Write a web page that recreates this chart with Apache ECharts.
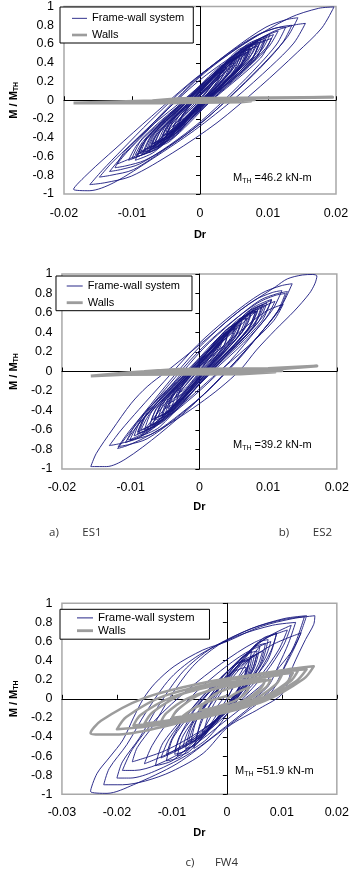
<!DOCTYPE html>
<html>
<head>
<meta charset="utf-8">
<title>Moment ratio vs drift: ES1, ES2, FW4</title>
<script src="https://cdn.jsdelivr.net/npm/echarts@6.0.0/dist/echarts.min.js"></script>
<style>
  html, body { margin: 0; padding: 0; background: #fff; }
  #chart { width: 352px; height: 870px; }
</style>
</head>
<body>
<div id="chart"></div>
<script>
const seriesNames = ['Frame-wall system', 'Walls'];
const captionLabels = ['a)', 'ES1', 'b)', 'ES2', 'c)', 'FW4'];
const mthValues = ['46.2', '39.2', '51.9'];
const drRangeES = [-0.02, 0.02];
const drRangeFW = [-0.03, 0.02];
const drStep = 0.01;
const ratioRange = [-1, 1];
const ratioStep = 0.2;

// [Dr, M/Mth] pairs
const es1Frame = [
  [0,0],[0.0015,0.14],[0.003,0.26],
  [0.0026,0.20],[0.0017,0.12],[0.0003,0.01],[-0.0011,-0.10],[-0.0023,-0.19],[-0.003,-0.22],
  [-0.0025,-0.15],[-0.0012,-0.03],[0.0006,0.11],[0.0024,0.25],[0.004,0.36],[0.005,0.40],
  [0.0044,0.31],[0.0028,0.18],[0.0005,0.01],[-0.0018,-0.16],[-0.0038,-0.30],[-0.005,-0.34],
  [-0.0043,-0.23],[-0.0023,-0.07],[0.0006,0.13],[0.0035,0.34],[0.006,0.50],[0.0075,0.55],
  [0.0066,0.43],[0.0043,0.24],[0.0009,0.01],[-0.0025,-0.23],[-0.0054,-0.41],[-0.0072,-0.47],
  [-0.0062,-0.33],[-0.0035,-0.13],[0.0003,0.13],[0.0042,0.39],[0.0075,0.59],[0.0095,0.66],
  [0.0084,0.51],[0.0054,0.30],[0.0012,0.02],[-0.0031,-0.26],[-0.0068,-0.48],[-0.009,-0.55],
  [-0.0078,-0.40],[-0.0048,-0.18],[-0.0003,0.11],[0.0041,0.40],[0.008,0.63],[0.0103,0.70],
  [0.0091,0.54],[0.0057,0.30],[0.0009,-0.01],[-0.0038,-0.32],[-0.008,-0.56],[-0.0105,-0.64],
  [-0.0092,-0.47],[-0.0057,-0.23],[-0.0006,0.09],[0.0045,0.41],[0.0089,0.66],[0.0115,0.74],
  [0.0101,0.57],[0.0063,0.31],[0.0008,-0.01],[-0.0046,-0.34],[-0.0094,-0.59],[-0.0122,-0.68],
  [-0.0107,-0.55],[-0.0082,-0.36],[-0.0048,-0.10],[-0.0003,0.23],[0.0042,0.49],[0.0084,0.69],[0.0111,0.77],[0.0126,0.78],
  [0.0113,0.60],[0.0087,0.38],[0.0048,0.09],[0.0002,-0.22],[-0.0045,-0.48],[-0.0089,-0.68],[-0.0117,-0.74],[-0.0133,-0.76],
  [-0.0116,-0.61],[-0.0089,-0.40],[-0.005,-0.10],[0,0.26],[0.005,0.55],[0.0097,0.78],[0.0127,0.86],[0.0144,0.88],
  [0.0129,0.68],[0.01,0.44],[0.0056,0.12],[0.0004,-0.23],[-0.0049,-0.51],[-0.0098,-0.74],[-0.0131,-0.80],[-0.0148,-0.82],
  [-0.013,-0.67],[-0.01,-0.46],[-0.0057,-0.16],[-0.0003,0.20],[0.0052,0.49],[0.0104,0.72],[0.0137,0.80],[0.0155,0.82],
  [0.0138,0.61],[0.0104,0.36],[0.0053,0.03],[-0.0008,-0.32],[-0.0069,-0.62],[-0.0127,-0.88],[-0.0163,-0.965],[-0.0186,-0.95],
  [-0.0163,-0.77],[-0.0125,-0.52],[-0.0071,-0.17],[-0.0002,0.26],[0.0067,0.61],[0.0132,0.88],[0.0174,0.98],[0.0197,0.995],
  [0.0179,0.77],[0.0143,0.51],[0.0089,0.15],[0.0025,-0.24],[-0.004,-0.56],[-0.0101,-0.81],[-0.014,-0.88],[-0.0162,-0.90],
  [-0.0144,-0.75],[-0.0115,-0.53],[-0.0073,-0.22],[-0.0019,0.15],[0.0034,0.46],[0.0085,0.70],[0.0117,0.78],[0.0135,0.80],
  [0.0122,0.62],[0.0096,0.40],[0.0057,0.12],[0.001,-0.19],[-0.0037,-0.45],[-0.0081,-0.64],[-0.0109,-0.70],[-0.0125,-0.72],
  [-0.0111,-0.55],[-0.0074,-0.29],[-0.002,0.03],[0.0033,0.36],[0.008,0.61],[0.0108,0.70],
  [0.0096,0.55],[0.0063,0.32],[0.0017,0.02],[-0.003,-0.27],[-0.0071,-0.50],[-0.0095,-0.58],
  [-0.0084,-0.44],[-0.0055,-0.22],[-0.0014,0.06],[0.0027,0.33],[0.0063,0.55],[0.0085,0.62],
  [0.0076,0.49],[0.0051,0.30],[0.0015,0.05],[-0.002,-0.20],[-0.0051,-0.40],[-0.007,-0.46],
  [-0.0062,-0.35],[-0.0041,-0.18],[-0.0012,0.04],[0.0018,0.25],[0.0044,0.42],[0.006,0.48],
  [0.0053,0.38],[0.0035,0.22],[0.0008,0.02],[-0.0018,-0.17],[-0.0041,-0.33],[-0.0055,-0.38],
  [-0.0049,-0.29],[-0.0034,-0.16],[-0.0012,0.0],[0.001,0.17],[0.0029,0.30],[0.004,0.34],
  [0.0035,0.27],[0.0022,0.15],[0.0004,0.01],[-0.0014,-0.13],[-0.003,-0.24],[-0.004,-0.28],
  [-0.002,-0.12],[0.0005,0.06]
];
// dense inner cycles of the dark core
const es1Core = [
  [0.0035,0.32],[0.0065,0.52],
  [0.0055,0.36],[0.0008,0.01],[-0.0043,-0.38],[-0.0062,-0.45],
  [-0.005,-0.27],[0.0003,0.11],[0.006,0.53],[0.0082,0.60],
  [0.0069,0.41],[0.001,0.01],[-0.0054,-0.44],[-0.0078,-0.52],
  [-0.0067,-0.35],[-0.0017,0.0],[0.0038,0.39],[0.0058,0.46],
  [0.0047,0.28],[-0.0006,-0.09],[-0.0064,-0.51],[-0.0085,-0.58],
  [-0.0071,-0.37],[-0.0006,0.07],[0.0064,0.56],[0.009,0.65],
  [0.0077,0.45],[0.0019,0.04],[-0.0044,-0.42],[-0.0068,-0.50],
  [-0.0057,-0.32],[-0.0005,0.06],[0.0051,0.48],[0.0072,0.55],
  [0.0058,0.35],[-0.0005,-0.07],[-0.0074,-0.54],[-0.01,-0.62],
  [-0.0084,-0.40],[-0.0011,0.07],[0.0068,0.59],[0.0098,0.68],
  [0.0084,0.47],[0.0017,0.03],[-0.0055,-0.46],[-0.0082,-0.55],
  [-0.007,-0.37],[-0.0015,0.01],[0.0046,0.43],[0.0068,0.50],
  [0.0058,0.34],[0.0011,0.01],[-0.004,-0.36],[-0.0058,-0.42],
  [-0.0045,-0.24],[0.0015,0.15],[0.0081,0.58],[0.0105,0.66],
  [0.0089,0.45],[0.0016,-0.01],[-0.0062,-0.51],[-0.0092,-0.60],
  [-0.0078,-0.40],[-0.0016,0.03],[0.0053,0.50],[0.0078,0.58],
  [0.0066,0.40],[0.0009,0.01],[-0.0052,-0.42],[-0.0075,-0.50],
  [-0.0065,-0.34],[-0.0018,0.0],[0.0033,0.37],[0.0052,0.44],
  [0.0044,0.30],[0.0007,0.02],[-0.0033,-0.30],[-0.0048,-0.36],
  [-0.0037,-0.19],[0.0013,0.16],[0.0068,0.55],[0.0088,0.62],
  [0.0074,0.42],[0.0009,-0.01],[-0.0062,-0.49],[-0.0088,-0.57],
  [-0.0076,-0.39],[-0.0021,-0.01],[0.004,0.41],[0.0062,0.48],
  [0.0052,0.32],[0.0004,-0.02],[-0.0047,-0.40],[-0.0066,-0.47],
  [-0.003,-0.2],[0,0],
  [0.0022,0.2],[0.0045,0.40],
  [0.0037,0.26],[0.0001,-0.03],[-0.0037,-0.36],[-0.0052,-0.42],
  [-0.0042,-0.26],[0.0004,0.08],[0.0053,0.45],[0.0072,0.52],
  [0.0063,0.38],[0.0024,0.09],[-0.0019,-0.24],[-0.0035,-0.30],
  [-0.0029,-0.19],[-0.0002,0.05],[0.0027,0.31],[0.0038,0.36],
  [0.0029,0.21],[-0.0011,-0.11],[-0.0054,-0.46],[-0.007,-0.52],
  [-0.0058,-0.33],[0,0.06],[0.0062,0.50],[0.0085,0.58],
  [0.0074,0.40],[0.0021,0.03],[-0.0037,-0.39],[-0.0058,-0.46],
  [-0.0049,-0.30],[-0.0007,0.03],[0.0038,0.40],[0.0055,0.46],
  [0.0047,0.32],[0.0011,0.04],[-0.0027,-0.28],[-0.0042,-0.34],
  [-0.0031,-0.17],[0.002,0.18],[0.0074,0.57],[0.0095,0.64],
  [0.008,0.42],[0.001,-0.04],[-0.0067,-0.55],[-0.0095,-0.64],
  [-0.0084,-0.46],[-0.0031,-0.08],[0.0027,0.35],[0.0048,0.42],
  [0.0038,0.25],[-0.0007,-0.10],[-0.0057,-0.49],[-0.0075,-0.56],
  [-0.0063,-0.36],[-0.0007,0.05],[0.0053,0.52],[0.0075,0.60],
  [0.0065,0.43],[0.0019,0.07],[-0.0031,-0.33],[-0.005,-0.40],
  [-0.0044,-0.28],[-0.0014,-0.03],[0.0018,0.25],[0.003,0.30],
  [0.0025,0.20],[0.0002,-0.01],[-0.0023,-0.24],[-0.0032,-0.28],
  [-0.0024,-0.14],[0.0013,0.15],[0.0053,0.48],[0.0068,0.54],
  [0.0058,0.36],[0.0009,-0.01],[-0.0043,-0.43],[-0.0063,-0.50],
  [-0.003,-0.22],[0,0]
];
// long flat wall cycles stacked round zero
const es1Walls = [
  [-0.0186,-0.03],[-0.006,-0.03],[0.006,-0.02],[0.0075,-0.008],[-0.006,-0.018],[-0.0055,-0.007],
  [0.008,0.004],[0.008,0.013],[-0.005,0.0],[-0.004,0.01],[0.008,0.022],[0.0195,0.032],
  [0.006,0.024],[-0.003,0.018],[-0.007,-0.005],[-0.0186,-0.03]
];

const es2Frame = [
  [0,0],[0.0015,0.14],[0.003,0.28],
  [0.0026,0.22],[0.0017,0.13],[0.0003,0.02],[-0.0011,-0.10],[-0.0023,-0.19],[-0.003,-0.22],
  [-0.0025,-0.14],[-0.0011,-0.02],[0.0008,0.13],[0.0028,0.29],[0.0045,0.41],[0.0055,0.45],
  [0.0049,0.36],[0.0033,0.22],[0.001,0.04],[-0.0013,-0.14],[-0.0033,-0.28],[-0.0045,-0.33],
  [-0.0038,-0.22],[-0.0019,-0.06],[0.0009,0.15],[0.0037,0.36],[0.0061,0.53],[0.0075,0.58],
  [0.0067,0.45],[0.0044,0.26],[0.0012,0.02],[-0.002,-0.23],[-0.0048,-0.42],[-0.0065,-0.48],
  [-0.0055,-0.34],[-0.003,-0.13],[0.0007,0.13],[0.0044,0.40],[0.0076,0.61],[0.0095,0.68],
  [0.0084,0.53],[0.0055,0.30],[0.0014,0.0],[-0.0027,-0.29],[-0.0063,-0.52],[-0.0085,-0.60],
  [-0.0073,-0.44],[-0.0042,-0.20],[0.0003,0.10],[0.0048,0.40],[0.0087,0.64],[0.011,0.72],
  [0.0097,0.55],[0.0064,0.29],[0.0015,-0.03],[-0.0033,-0.36],[-0.0076,-0.61],[-0.0101,-0.70],
  [-0.0088,-0.53],[-0.0052,-0.28],[-0.0001,0.04],[0.0051,0.36],[0.0095,0.61],[0.0122,0.69],
  [0.0108,0.52],[0.0071,0.26],[0.0019,-0.06],[-0.0034,-0.39],[-0.008,-0.64],[-0.0108,-0.73],
  [-0.0094,-0.59],[-0.007,-0.39],[-0.0037,-0.11],[0.0005,0.23],[0.0048,0.51],[0.0088,0.73],[0.0114,0.80],[0.0128,0.82],
  [0.0116,0.63],[0.0091,0.41],[0.0054,0.10],[0.001,-0.21],[-0.0034,-0.48],[-0.0076,-0.69],[-0.0103,-0.75],[-0.0118,-0.77],
  [-0.0104,-0.63],[-0.008,-0.42],[-0.0047,-0.13],[-0.0004,0.22],[0.0039,0.51],[0.008,0.73],[0.0106,0.81],[0.012,0.83],
  [0.0107,0.64],[0.0082,0.42],[0.0045,0.11],[0,-0.20],[-0.0046,-0.47],[-0.0088,-0.68],[-0.0116,-0.74],[-0.0131,-0.76],
  [-0.0115,-0.61],[-0.0088,-0.39],[-0.0051,-0.10],[-0.0003,0.27],[0.0045,0.57],[0.009,0.80],[0.0119,0.88],[0.0135,0.90],
  [0.012,0.68],[0.0091,0.41],[0.0047,0.06],[-0.0006,-0.32],[-0.0058,-0.64],[-0.0108,-0.90],[-0.0135,-0.975],[-0.0158,-0.975],
  [-0.015,-0.84],[-0.0127,-0.60],[-0.0099,-0.325],[-0.0076,-0.155],[-0.0048,0],[0.0003,0.29],[0.006,0.63],[0.0111,0.87],
  [0.0128,0.95],[0.015,0.99],[0.0165,0.995],[0.0171,0.98],
  [0.0168,0.9],[0.016,0.80],[0.0138,0.62],[0.0111,0.43],[0.0083,0.22],[0.006,0.02],[0.003,-0.17],[0,-0.33],
  [-0.004,-0.52],[-0.008,-0.68],[-0.0105,-0.76],[-0.0119,-0.79],
  [-0.0104,-0.65],[-0.008,-0.44],[-0.0046,-0.15],[-0.0002,0.20],[0.0042,0.48],[0.0084,0.70],[0.011,0.78],[0.0125,0.80],
  [0.0114,0.62],[0.0091,0.41],[0.0056,0.13],[0.0015,-0.18],[-0.0027,-0.43],[-0.0066,-0.63],[-0.0091,-0.69],[-0.0105,-0.70],
  [-0.0092,-0.53],[-0.0059,-0.27],[-0.0011,0.06],[0.0038,0.39],[0.008,0.64],[0.0105,0.73],
  [0.0093,0.57],[0.0062,0.33],[0.0017,0.01],[-0.0028,-0.30],[-0.0067,-0.54],[-0.009,-0.62],
  [-0.008,-0.47],[-0.0052,-0.25],[-0.0011,0.04],[0.0029,0.32],[0.0064,0.55],[0.0085,0.62],
  [0.0076,0.49],[0.0051,0.28],[0.0015,0.03],[-0.002,-0.23],[-0.0051,-0.43],[-0.007,-0.50],
  [-0.0062,-0.38],[-0.0041,-0.21],[-0.0012,0.02],[0.0018,0.24],[0.0044,0.42],[0.006,0.48],
  [0.0053,0.38],[0.0036,0.22],[0.001,0.02],[-0.0015,-0.17],[-0.0037,-0.33],[-0.005,-0.38],
  [-0.0045,-0.29],[-0.003,-0.16],[-0.001,0.0],[0.0011,0.17],[0.0029,0.30],[0.004,0.34],
  [0.0036,0.27],[0.0024,0.16],[0.0006,0.02],[-0.0011,-0.12],[-0.0026,-0.23],[-0.0035,-0.27],
  [-0.0015,-0.10],[0.0005,0.05]
];
const es2Core = [
  [0.0033,0.30],[0.006,0.50],
  [0.0051,0.34],[0.0008,0.0],[-0.0038,-0.38],[-0.0055,-0.45],
  [-0.0044,-0.26],[0.0008,0.13],[0.0064,0.56],[0.0085,0.64],
  [0.0072,0.44],[0.0014,0.01],[-0.0048,-0.47],[-0.0072,-0.55],
  [-0.0061,-0.36],[-0.0009,0.03],[0.0047,0.47],[0.0068,0.55],
  [0.0055,0.35],[-0.0003,-0.08],[-0.0066,-0.56],[-0.009,-0.64],
  [-0.0075,-0.41],[-0.0005,0.07],[0.007,0.61],[0.0098,0.70],
  [0.0085,0.50],[0.0025,0.06],[-0.0041,-0.42],[-0.0065,-0.50],
  [-0.0054,-0.31],[-0.0002,0.08],[0.0054,0.52],[0.0075,0.60],
  [0.0061,0.39],[-0.0002,-0.07],[-0.007,-0.57],[-0.0095,-0.66],
  [-0.0079,-0.42],[-0.0005,0.08],[0.0075,0.64],[0.0105,0.74],
  [0.009,0.51],[0.0022,0.03],[-0.0052,-0.51],[-0.008,-0.60],
  [-0.0069,-0.41],[-0.0016,-0.01],[0.0041,0.44],[0.0062,0.52],
  [0.0052,0.35],[0.0007,0.0],[-0.0042,-0.40],[-0.006,-0.47],
  [-0.0048,-0.28],[0.0008,0.13],[0.0068,0.58],[0.009,0.66],
  [0.0076,0.44],[0.001,-0.02],[-0.0061,-0.54],[-0.0088,-0.63],
  [-0.0077,-0.45],[-0.0025,-0.06],[0.0031,0.37],[0.0052,0.44],
  [0.0044,0.30],[0.0008,0.01],[-0.003,-0.32],[-0.0045,-0.38],
  [-0.0035,-0.21],[0.0012,0.15],[0.0063,0.55],[0.0082,0.62],
  [0.0069,0.42],[0.001,-0.02],[-0.0054,-0.50],[-0.0078,-0.58],
  [-0.004,-0.25],[0,0.02],
  [0.002,0.2],[0.0042,0.40],
  [0.0035,0.26],[0.0001,-0.04],[-0.0036,-0.38],[-0.005,-0.44],
  [-0.004,-0.27],[0.0004,0.08],[0.0052,0.48],[0.007,0.55],
  [0.0062,0.41],[0.0024,0.10],[-0.0018,-0.24],[-0.0033,-0.30],
  [-0.0027,-0.18],[-0.0002,0.06],[0.0026,0.33],[0.0036,0.38],
  [0.0028,0.22],[-0.0011,-0.11],[-0.0052,-0.48],[-0.0068,-0.55],
  [-0.0056,-0.35],[-0.0001,0.07],[0.006,0.54],[0.0082,0.62],
  [0.0071,0.43],[0.002,0.04],[-0.0034,-0.40],[-0.0055,-0.48],
  [-0.0046,-0.32],[-0.0007,0.03],[0.0036,0.41],[0.0052,0.48],
  [0.0045,0.34],[0.0011,0.03],[-0.0026,-0.30],[-0.004,-0.36],
  [-0.0029,-0.18],[0.0019,0.19],[0.0072,0.61],[0.0092,0.68],
  [0.0078,0.45],[0.0012,-0.03],[-0.0058,-0.57],[-0.0085,-0.66],
  [-0.004,-0.3],[0,0.02]
];
const es2Walls = [
  [-0.0158,-0.045],[-0.011,-0.03],[0.006,-0.025],[0.011,-0.005],[-0.0105,-0.02],[-0.0095,-0.009],
  [0.012,0.008],[0.012,0.018],[-0.008,0.0],[-0.006,0.01],[0.012,0.028],[0.0171,0.057],
  [0.01,0.03],[-0.003,0.022],[-0.0105,-0.012],[-0.0158,-0.045]
];

const fw4Frame = [
  [0,0],[0.002,0.2],[0.004,0.35],
  [0.0035,0.25],[0.0024,0.12],[0.0008,-0.03],[-0.0008,-0.14],[-0.0024,-0.24],[-0.004,-0.30],
  [-0.0034,-0.18],[-0.0019,-0.01],[0.0002,0.16],[0.0023,0.31],[0.0044,0.43],[0.0065,0.50],
  [0.0057,0.36],[0.0038,0.16],[0.0011,-0.05],[-0.0016,-0.22],[-0.0043,-0.36],[-0.007,-0.45],
  [-0.006,-0.28],[-0.0038,-0.04],[-0.0006,0.21],[0.0027,0.42],[0.0059,0.59],[0.0091,0.69],
  [0.008,0.50],[0.0054,0.24],[0.0017,-0.03],[-0.002,-0.25],[-0.0058,-0.44],[-0.0095,-0.55],
  [-0.0082,-0.35],[-0.0053,-0.07],[-0.001,0.22],[0.0032,0.45],[0.0075,0.65],[0.0117,0.77],
  [0.0103,0.56],[0.007,0.27],[0.0022,-0.04],[-0.0025,-0.29],[-0.0073,-0.49],[-0.012,-0.62],
  [-0.0105,-0.42],[-0.0069,-0.15],[-0.0018,0.14],[0.0033,0.38],[0.0084,0.57],[0.0135,0.69],
  [0.0117,0.49],[0.0074,0.20],[0.0012,-0.09],[-0.0049,-0.34],[-0.0111,-0.54],[-0.0172,-0.66],
  [-0.0163,-0.51],[-0.0134,-0.28],[-0.0103,0.02],[-0.0062,0.34],[-0.0016,0.56],[0.0047,0.74],[0.0103,0.83],[0.0141,0.86],
  [0.0127,0.62],[0.0107,0.37],[0.0086,0.13],[0.0046,-0.07],[-0.0002,-0.29],[-0.0064,-0.56],[-0.0132,-0.76],[-0.0176,-0.83],[-0.02,-0.83],
  [-0.019,-0.66],[-0.0159,-0.41],[-0.0124,-0.07],[-0.0079,0.29],[-0.0028,0.53],[0.0042,0.73],[0.0104,0.84],[0.0145,0.87],
  [0.0129,0.61],[0.0106,0.34],[0.0082,0.08],[0.0035,-0.14],[-0.002,-0.38],[-0.0091,-0.68],[-0.017,-0.90],[-0.0218,-0.99],[-0.0248,-0.97],
  [-0.0236,-0.78],[-0.0213,-0.61],[-0.0189,-0.43],[-0.017,-0.2],[-0.0152,0],[-0.0131,0.16],[-0.0096,0.34],[-0.0044,0.51],
  [0,0.6],[0.0061,0.755],[0.012,0.84],[0.016,0.87],
  [0.0158,0.78],[0.0143,0.62],[0.012,0.34],[0.0102,0.06],[0.006,-0.1],[0.0003,-0.29],[-0.0043,-0.57],[-0.01,-0.76],
  [-0.0148,-0.86],[-0.019,-0.9],[-0.0224,-0.90],
  [-0.0214,-0.73],[-0.0182,-0.48],[-0.0147,-0.14],[-0.0102,0.22],[-0.005,0.46],[0.002,0.66],[0.0083,0.77],[0.0125,0.80],
  [0.0112,0.58],[0.0094,0.35],[0.0075,0.13],[0.0037,-0.05],[-0.0007,-0.25],[-0.0064,-0.50],[-0.0127,-0.69],[-0.0168,-0.75],[-0.019,-0.75],
  [-0.0172,-0.53],[-0.013,-0.22],[-0.007,0.10],[-0.001,0.37],[0.005,0.59],[0.011,0.72],
  [0.0094,0.51],[0.0058,0.22],[0.0006,-0.09],[-0.0046,-0.34],[-0.0098,-0.55],[-0.015,-0.68],
  [-0.0136,-0.49],[-0.0104,-0.22],[-0.0058,0.06],[-0.0012,0.29],[0.0034,0.48],[0.008,0.60],
  [0.0069,0.42],[0.0042,0.18],[0.0004,-0.08],[-0.0034,-0.30],[-0.0072,-0.47],[-0.011,-0.58],
  [-0.01,-0.42],[-0.0077,-0.20],[-0.0044,0.03],[-0.0011,0.22],[0.0022,0.38],[0.0055,0.47],
  [0.0047,0.32],[0.0028,0.12],[0.0001,-0.09],[-0.0026,-0.27],[-0.0053,-0.41],[-0.008,-0.50],
  [-0.0072,-0.36],[-0.0054,-0.16],[-0.0028,0.05],[-0.0002,0.22],[0.0024,0.36],[0.005,0.45],
  [0.0043,0.30],[0.0028,0.10],[0.0006,-0.11],[-0.0016,-0.29],[-0.0038,-0.43],[-0.006,-0.52],
  [-0.0054,-0.37],[-0.0039,-0.15],[-0.0018,0.07],[0.0003,0.26],[0.0024,0.41],[0.0045,0.5],
  [0.004,0.37],[0.0028,0.19],[0.0011,0.0],[-0.0006,-0.15],[-0.0023,-0.28],[-0.004,-0.36],
  [-0.002,-0.18],[0,0]
];
const fw4Core = [
  [0.003,0.32],[0.006,0.55],
  [0.0048,0.30],[-0.0008,-0.14],[-0.0068,-0.55],[-0.009,-0.60],
  [-0.0079,-0.38],[-0.0029,0.01],[0.0025,0.38],[0.0045,0.42],
  [0.0036,0.23],[-0.0005,-0.10],[-0.0049,-0.42],[-0.0065,-0.45],
  [-0.0054,-0.21],[-0.0002,0.19],[0.0054,0.58],[0.0075,0.62],
  [0.006,0.34],[-0.0008,-0.14],[-0.0082,-0.60],[-0.011,-0.65],
  [-0.0097,-0.40],[-0.0036,0.04],[0.003,0.45],[0.0055,0.50],
  [0.0045,0.28],[-0.0004,-0.11],[-0.0056,-0.48],[-0.0075,-0.52],
  [-0.0062,-0.26],[-0.0001,0.20],[0.0065,0.63],[0.009,0.68],
  [0.0072,0.38],[-0.0009,-0.15],[-0.0097,-0.64],[-0.013,-0.70],
  [-0.0116,-0.46],[-0.0054,-0.04],[0.0015,0.36],[0.004,0.40],
  [0.0032,0.22],[-0.0003,-0.09],[-0.0041,-0.39],[-0.0055,-0.42],
  [-0.0045,-0.20],[0.0001,0.18],[0.0051,0.54],[0.007,0.58],
  [0.0057,0.32],[-0.0004,-0.12],[-0.007,-0.53],[-0.0095,-0.58],
  [-0.0085,-0.38],[-0.0037,-0.03],[0.0016,0.29],[0.0035,0.33],
  [0.0029,0.18],[-0.0001,-0.08],[-0.0033,-0.32],[-0.0045,-0.35],
  [-0.002,-0.1],[0,0.05]
];
const fw4Walls = [
  [0,0],[0.002,0.07],[0.004,0.12],
  [0.0036,0.07],[0.0018,-0.01],[-0.001,-0.07],[-0.0037,-0.11],[-0.005,-0.12],
  [-0.0044,-0.06],[-0.0018,0.06],[0.0022,0.14],[0.0061,0.18],[0.008,0.20],
  [0.0071,0.12],[0.0035,-0.02],[-0.0019,-0.12],[-0.0073,-0.18],[-0.01,-0.20],
  [-0.0089,-0.11],[-0.0045,0.06],[0.0021,0.18],[0.0087,0.25],[0.012,0.27],
  [0.0107,0.16],[0.0053,-0.02],[-0.0029,-0.15],[-0.011,-0.23],[-0.015,-0.26],
  [-0.0135,-0.14],[-0.0073,0.07],[0.0019,0.22],[0.0112,0.31],[0.0158,0.34],
  [0.014,0.21],[0.0069,-0.02],[-0.0039,-0.19],[-0.0146,-0.29],[-0.02,-0.32],
  [-0.0183,-0.19],[-0.0114,0.03],[-0.001,0.18],[0.0093,0.28],[0.0145,0.31],
  [0.0125,0.18],[0.0047,-0.06],[-0.0071,-0.23],[-0.0189,-0.37],[-0.023,-0.375],[-0.0248,-0.36],
  [-0.0229,-0.23],[-0.0154,0.0],[-0.004,0.17],[0.0073,0.27],[0.013,0.30],
  [0.0115,0.18],[0.0055,-0.02],[-0.0035,-0.16],[-0.0125,-0.25],[-0.017,-0.28],
  [-0.0157,-0.17],[-0.0103,0.01],[-0.0022,0.14],[0.006,0.22],[0.01,0.25],
  [0.0089,0.15],[0.0045,-0.02],[-0.0021,-0.14],[-0.0087,-0.22],[-0.012,-0.24],
  [-0.011,-0.15],[-0.0073,0.0],[-0.0016,0.11],[0.0042,0.18],[0.007,0.20],
  [0.0063,0.12],[0.0033,-0.01],[-0.0013,-0.10],[-0.0058,-0.16],[-0.008,-0.18],
  [-0.006,-0.1],[-0.003,-0.02],[0,0.03]
];

const FONT = '"Liberation Sans", Arial, sans-serif';
const frameColor = '#18187f';
const wallsColor = '#9c9c9c';

// layout of the three stacked plots
const layouts = [
  {
    grid: { left: 58.5, top: 5.7, width: 277.5, height: 188.3 },
    legend: { left: 60, top: 7, padding: [5.8, 9, 2.5, 12], itemGap: 5.7, itemHeight: 11, itemWidth: 15, fontSize: 11 },
    note: { left: 233, top: 171.5 },
    xLabelMargin: 13.2, xNameGap: 35, yLabelMargin: 10, yNameGap: 44, wallsWidth: 3, wallsSmooth: false
  },
  {
    grid: { left: 52.3, top: 274, width: 288.4, height: 195 },
    legend: { left: 56, top: 276, padding: [4.5, 12, 2.5, 10.7], itemGap: 5.7, itemHeight: 11, itemWidth: 16, fontSize: 11 },
    note: { left: 233, top: 438.5 },
    xLabelMargin: 11.7, xNameGap: 32.5, yLabelMargin: 9.5, yNameGap: 40, wallsWidth: 3, wallsSmooth: false
  },
  {
    grid: { left: 53.3, top: 603.3, width: 285.7, height: 191 },
    legend: { left: 60, top: 609.3, padding: [2.6, 15, 2.5, 17], itemGap: 0.8, itemHeight: 11, itemWidth: 16, fontSize: 11.5 },
    note: { left: 235, top: 764.5 },
    xLabelMargin: 11.4, xNameGap: 33, yLabelMargin: 9.5, yNameGap: 41, wallsWidth: 2.5, wallsSmooth: 0.3
  }
];
const captionPositions = [[54, 533], [92, 533], [284, 533], [322.5, 533], [190, 863], [226.5, 863]];

const panels = [
  Object.assign({ frame: es1Frame.concat(es1Core), walls: es1Walls, drRange: drRangeES, mth: mthValues[0] }, layouts[0]),
  Object.assign({ frame: es2Frame.concat(es2Core), walls: es2Walls, drRange: drRangeES, mth: mthValues[1] }, layouts[1]),
  Object.assign({ frame: fw4Frame.concat(fw4Core), walls: fw4Walls, drRange: drRangeFW, mth: mthValues[2] }, layouts[2])
];

function subRich(bold) {
  return {
    m: { fontFamily: FONT, fontSize: 11, fontWeight: bold ? 'bold' : 'normal', color: '#000', lineHeight: 13 },
    s: { fontFamily: FONT, fontSize: 7, fontWeight: bold ? 'bold' : 'normal', color: '#000', lineHeight: 7, verticalAlign: 'bottom' }
  };
}

const grids = [], xAxes = [], yAxes = [], series = [], legends = [], titles = [];

panels.forEach(function (p, i) {
  grids.push(Object.assign({ show: true, borderColor: '#a8a8a8', borderWidth: 1.5, backgroundColor: '#fff' }, p.grid));

  // bottom axis only carries the labels, the second one is the line through zero
  xAxes.push({
    gridIndex: i, type: 'value', min: p.drRange[0], max: p.drRange[1], interval: drStep, position: 'bottom',
    axisLine: { show: false, onZero: false }, axisTick: { show: false }, splitLine: { show: false },
    axisLabel: { color: '#000', fontSize: 12.5, fontFamily: FONT, margin: p.xLabelMargin },
    name: 'Dr', nameLocation: 'middle', nameGap: p.xNameGap,
    nameTextStyle: { color: '#000', fontSize: 11, fontWeight: 'bold', fontFamily: FONT }
  });
  xAxes.push({
    gridIndex: i, type: 'value', min: p.drRange[0], max: p.drRange[1], interval: drStep, position: 'top',
    axisLine: { show: true, onZero: true, lineStyle: { color: '#000', width: 1 } },
    axisTick: { show: true, length: 4, lineStyle: { color: '#000' } },
    axisLabel: { show: false }, splitLine: { show: false }
  });
  yAxes.push({
    gridIndex: i, type: 'value', min: ratioRange[0], max: ratioRange[1], interval: ratioStep, position: 'left',
    axisLine: { show: false, onZero: false }, axisTick: { show: false }, splitLine: { show: false },
    axisLabel: { color: '#000', fontSize: 12.5, fontFamily: FONT, margin: p.yLabelMargin },
    name: '{m|M / M}{s|TH}', nameLocation: 'middle', nameRotate: 90, nameGap: p.yNameGap,
    nameTextStyle: { color: '#000', fontSize: 11, fontWeight: 'bold', fontFamily: FONT, rich: subRich(true) }
  });
  yAxes.push({
    gridIndex: i, type: 'value', min: ratioRange[0], max: ratioRange[1], interval: ratioStep, position: 'left',
    axisLine: { show: true, onZero: true, lineStyle: { color: '#000', width: 1 } },
    axisTick: { show: true, length: 4, lineStyle: { color: '#000' } },
    axisLabel: { show: false }, splitLine: { show: false }
  });

  series.push({
    name: seriesNames[0], type: 'line', xAxisIndex: 2 * i, yAxisIndex: 2 * i, data: p.frame,
    symbol: 'none', smooth: 0.3, lineStyle: { color: frameColor, width: 0.9 }, itemStyle: { color: frameColor }, z: 2
  });
  series.push({
    name: seriesNames[1], type: 'line', xAxisIndex: 2 * i, yAxisIndex: 2 * i, data: p.walls,
    symbol: 'none', smooth: p.wallsSmooth, lineStyle: { color: wallsColor, width: p.wallsWidth, join: 'round' },
    itemStyle: { color: wallsColor }, z: 3
  });

  legends.push({
    left: p.legend.left, top: p.legend.top, orient: 'vertical', selectedMode: false,
    padding: p.legend.padding, itemGap: p.legend.itemGap, itemWidth: p.legend.itemWidth, itemHeight: p.legend.itemHeight,
    backgroundColor: '#fff', borderColor: '#000', borderWidth: 1,
    textStyle: { color: '#000', fontSize: p.legend.fontSize, fontFamily: FONT },
    data: [
      { name: seriesNames[0], icon: 'path://M0,0L17,0L17,1L0,1Z' },
      { name: seriesNames[1], icon: 'path://M0,0L17,0L17,3L0,3Z' }
    ]
  });

  titles.push({
    left: p.note.left, top: p.note.top, padding: 0,
    text: '{m|M}{s|TH}{m| =' + p.mth + ' kN-m}',
    textStyle: { fontFamily: FONT, fontSize: 11, fontWeight: 'normal', color: '#000', rich: subRich(false) }
  });
});

const captions = captionLabels.map(function (label, k) {
  return {
    type: 'text', x: captionPositions[k][0], y: captionPositions[k][1],
    style: { text: label, fill: '#333', font: '11.5px "Open Sans", sans-serif', align: 'center', verticalAlign: 'middle' }
  };
});

const chart = echarts.init(document.getElementById('chart'));
chart.setOption({
  animation: false,
  grid: grids,
  xAxis: xAxes,
  yAxis: yAxes,
  legend: legends,
  title: titles,
  graphic: captions,
  series: series
});
window.addEventListener('resize', function () { chart.resize(); });
</script>
</body>
</html>
